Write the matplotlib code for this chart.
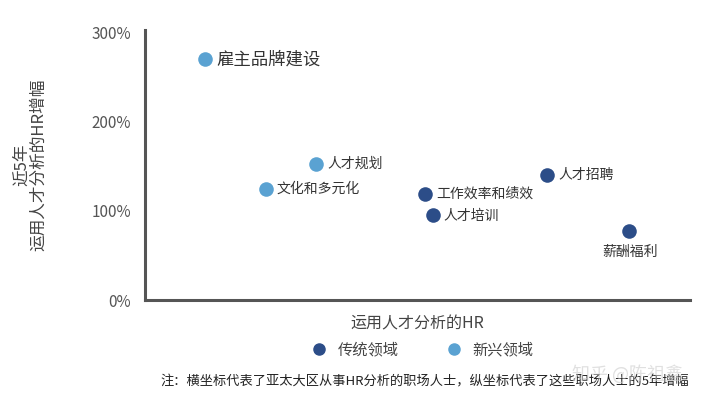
import numpy as np
import matplotlib
matplotlib.use("Agg")
from matplotlib import pyplot as plt
from matplotlib.lines import Line2D

plt.rcParams['font.family'] = ['Noto Sans CJK SC', 'DejaVu Sans']

# 数据（横轴无刻度，按0-100相对位置估读）
names = ["雇主品牌建设", "人才规划", "文化和多元化", "工作效率和绩效", "人才培训", "人才招聘", "薪酬福利"]
x_vals = [11.0, 31.4, 22.2, 51.4, 52.8, 73.8, 88.8]
growth = [270, 153, 125, 119, 95, 140, 77]
group = ["新兴", "新兴", "新兴", "传统", "传统", "传统", "传统"]

dark_blue = "#2c4d88"
light_blue = "#5aa2d2"
colors = {"传统": dark_blue, "新兴": light_blue}

fig = plt.figure(figsize=(7.24, 4.05), dpi=100)
ax = fig.add_axes([0.200, 0.259, 0.753, 0.667])

for xv, yv, g in zip(x_vals, growth, group):
    ax.scatter(xv, yv, s=110, color=colors[g], zorder=3, linewidths=0)

# 标签
for name, xv, yv in zip(names, x_vals, growth):
    if name == "薪酬福利":
        ax.annotate(name, (xv, yv), xytext=(1, -20), textcoords="offset pixels",
                    ha="center", va="center", fontsize=10, color="#333333")
    elif name == "雇主品牌建设":
        ax.annotate(name, (xv, yv), xytext=(12, 0), textcoords="offset pixels",
                    ha="left", va="center", fontsize=12.5, color="#333333")
    else:
        ax.annotate(name, (xv, yv), xytext=(11, 0), textcoords="offset pixels",
                    ha="left", va="center", fontsize=10, color="#333333")

ax.set_xlim(0, 100)
ax.set_ylim(0, 303)
ax.set_xticks([])
ax.set_yticks([0, 100, 200, 300])
ax.set_yticklabels(["0%", "100%", "200%", "300%"], fontsize=11, color="#555555")
ax.tick_params(axis="y", length=0, pad=10)

for side in ["top", "right"]:
    ax.spines[side].set_visible(False)
for side in ["left", "bottom"]:
    ax.spines[side].set_color("#555555")
    ax.spines[side].set_linewidth(2.2)

ax.set_xlabel("运用人才分析的HR", fontsize=11.5, color="#444444", labelpad=11)
fig.text(0.042, 0.593, "近5年\n运用人才分析的HR增幅", rotation=90, ha="center", va="center",
         fontsize=12, color="#444444", linespacing=1.0)

# 图例
handles = [Line2D([], [], marker="o", linestyle="", markersize=8, color=dark_blue),
           Line2D([], [], marker="o", linestyle="", markersize=8, color=light_blue)]
fig.legend(handles, ["传统领域", "新兴领域"], loc="center", bbox_to_anchor=(0.578, 0.135),
           ncol=2, frameon=False, fontsize=11, handletextpad=0.2, columnspacing=2.6,
           labelcolor="#444444")

fig.text(0.221, 0.058, "注：横坐标代表了亚太大区从事HR分析的职场人士，纵坐标代表了这些职场人士的5年增幅",
         fontsize=9.5, color="#222222", ha="left", va="center")
fig.text(0.79, 0.075, "知乎 @陈祖鑫", fontsize=13, color="#cccccc", alpha=0.6,
         ha="left", va="center")

fig.savefig("out.png", dpi=100)
